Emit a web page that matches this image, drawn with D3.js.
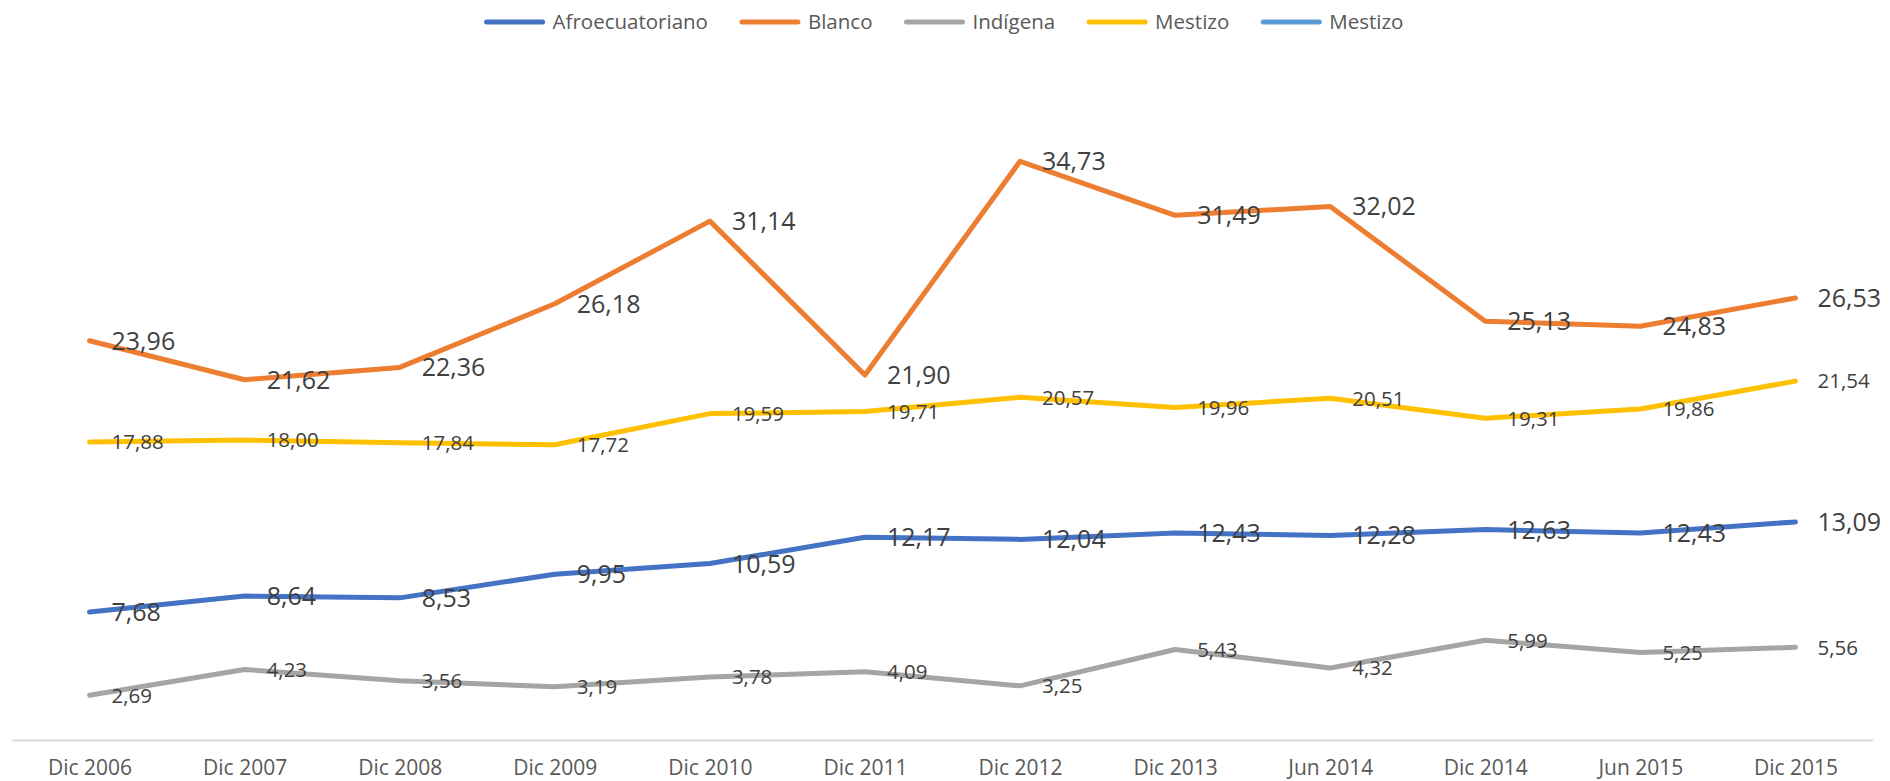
<!DOCTYPE html>
<html>
<head>
<meta charset="utf-8">
<script src="https://cdn.jsdelivr.net/npm/d3@7"></script>
<style>
  body { margin: 0; background: #fff; }
  svg { display: block; font-family: "Open Sans", sans-serif; }
</style>
</head>
<body>
<svg id="chart" width="1890" height="781"></svg>
<script>
// categories on the x axis
var periods = ["Dic 2006", "Dic 2007", "Dic 2008", "Dic 2009", "Dic 2010", "Dic 2011",
               "Dic 2012", "Dic 2013", "Jun 2014", "Dic 2014", "Jun 2015", "Dic 2015"];

// values per group (%)
var afro     = [7.68, 8.64, 8.53, 9.95, 10.59, 12.17, 12.04, 12.43, 12.28, 12.63, 12.43, 13.09];
var blanco   = [23.96, 21.62, 22.36, 26.18, 31.14, 21.90, 34.73, 31.49, 32.02, 25.13, 24.83, 26.53];
var indigena = [2.69, 4.23, 3.56, 3.19, 3.78, 4.09, 3.25, 5.43, 4.32, 5.99, 5.25, 5.56];
var mestizo  = [17.88, 18.00, 17.84, 17.72, 19.59, 19.71, 20.57, 19.96, 20.51, 19.31, 19.86, 21.54];
var mestizo2 = []; // listed in legend only, no values

var legendNames = ["Afroecuatoriano", "Blanco", "Indígena", "Mestizo", "Mestizo"];

var series = [
  { name: "Afroecuatoriano", values: afro,     color: "#4472C4", big: true },
  { name: "Blanco",          values: blanco,   color: "#ED7D31", big: true },
  { name: "Indígena",        values: indigena, color: "#A5A5A5", big: false },
  { name: "Mestizo",         values: mestizo,  color: "#FFC000", big: false },
  { name: "Mestizo",         values: mestizo2, color: "#5B9BD5", big: false }
];

var svg = d3.select("#chart");

var x = d3.scalePoint().domain(periods).range([12, 1873]).padding(0.5);
var y = d3.scaleLinear().domain([0, 40]).range([740, 73.5]);

var fmt = function(v) { return v.toFixed(2).replace(".", ","); };

// axis
var xAxis = svg.append("g")
  .attr("transform", "translate(0,740)")
  .call(d3.axisBottom(x).tickSize(0).tickPadding(0));
xAxis.select(".domain").attr("stroke", "#d9d9d9").attr("stroke-width", 2);
xAxis.selectAll("text")
  .attr("y", 35)
  .attr("dy", 0)
  .attr("fill", "#595959")
  .style("font-size", "21px")
  .style("font-family", "'Open Sans', sans-serif");

var line = d3.line()
  .x(function(d, i) { return x(periods[i]); })
  .y(function(d) { return y(d); });

series.forEach(function(s) {
  if (!s.values.length) return;
  svg.append("path")
    .datum(s.values)
    .attr("fill", "none")
    .attr("stroke", s.color)
    .attr("stroke-width", 5)
    .attr("stroke-linejoin", "round")
    .attr("stroke-linecap", "round")
    .attr("d", line);
});

// data labels, to the right of each point
series.forEach(function(s) {
  svg.append("g").selectAll("text")
    .data(s.values)
    .enter().append("text")
      .attr("x", function(d, i) { return x(periods[i]) + 22; })
      .attr("y", function(d) { return y(d); })
      .attr("dy", "0.36em")
      .attr("fill", "#404040")
      .style("font-size", s.big ? "25px" : "20.5px")
      .text(function(d) { return fmt(d); });
});

// legend
var leg = svg.append("g").attr("transform", "translate(0,22)");
var lx = 0;
series.forEach(function(s, i) {
  var g = leg.append("g");
  g.append("line")
    .attr("x1", 0).attr("x2", 56).attr("y1", 0).attr("y2", 0)
    .attr("stroke", s.color).attr("stroke-width", 5).attr("stroke-linecap", "round");
  var t = g.append("text")
    .attr("x", 66).attr("dy", "0.35em")
    .attr("fill", "#595959")
    .style("font-size", "20.5px")
    .text(legendNames[i]);
  var w = 66 + t.node().getComputedTextLength();
  g.attr("transform", "translate(" + lx + ",0)");
  lx += w + 34;
});
var total = lx - 34;
leg.attr("transform", "translate(" + (945 - total / 2) + ",22)");
</script>
</body>
</html>
